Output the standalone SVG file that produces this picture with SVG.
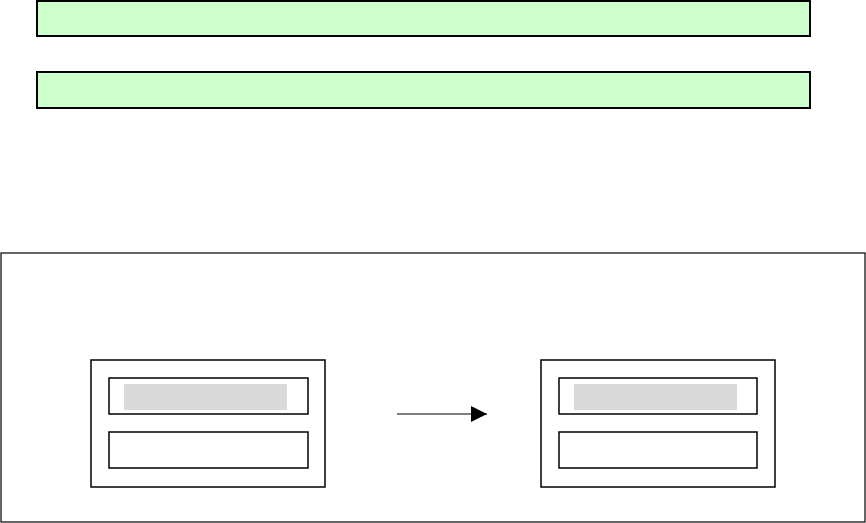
<svg xmlns="http://www.w3.org/2000/svg" width="866" height="523" viewBox="0 0 866 523">
<style>
.bar{fill:#ccffcc;stroke:#000;stroke-width:2}
.box{fill:#fff;stroke:#000;stroke-width:1.5}
.frame{fill:#fff;stroke:#000;stroke-width:1.2}
.gray{fill:#d9d9d9;stroke:none}
.conn{stroke:#000;stroke-width:1.2;fill:none}
</style>
<defs>
<marker id="arrow" markerWidth="16" markerHeight="16" refX="16" refY="8" orient="auto" markerUnits="userSpaceOnUse" viewBox="0 0 16 16">
<path d="M0,0 L16,8 L0,16 Z" fill="#000"/>
</marker>
</defs>
<rect width="866" height="523" fill="#fff"/>
<g id="bar1"><rect class="bar" x="37" y="1" width="773" height="35"/></g>
<g id="bar2"><rect class="bar" x="37" y="72" width="773" height="36"/></g>
<g id="frame"><rect class="frame" x="1" y="253" width="864" height="269"/></g>
<g id="left">
<rect class="box" x="91" y="360" width="234" height="127"/>
<rect class="box" x="109" y="378" width="199" height="36"/>
<rect class="gray" x="124" y="384" width="163" height="26"/>
<rect class="box" x="109" y="432" width="199" height="36"/>
</g>
<g id="right">
<rect class="box" x="541" y="360" width="234" height="127"/>
<rect class="box" x="559" y="378" width="198" height="36"/>
<rect class="gray" x="574" y="384" width="163" height="26"/>
<rect class="box" x="559" y="432" width="198" height="36"/>
</g>
<g id="connectors">
<line class="conn" x1="397" y1="414" x2="487" y2="414" marker-end="url(#arrow)"/>
</g>
</svg>
